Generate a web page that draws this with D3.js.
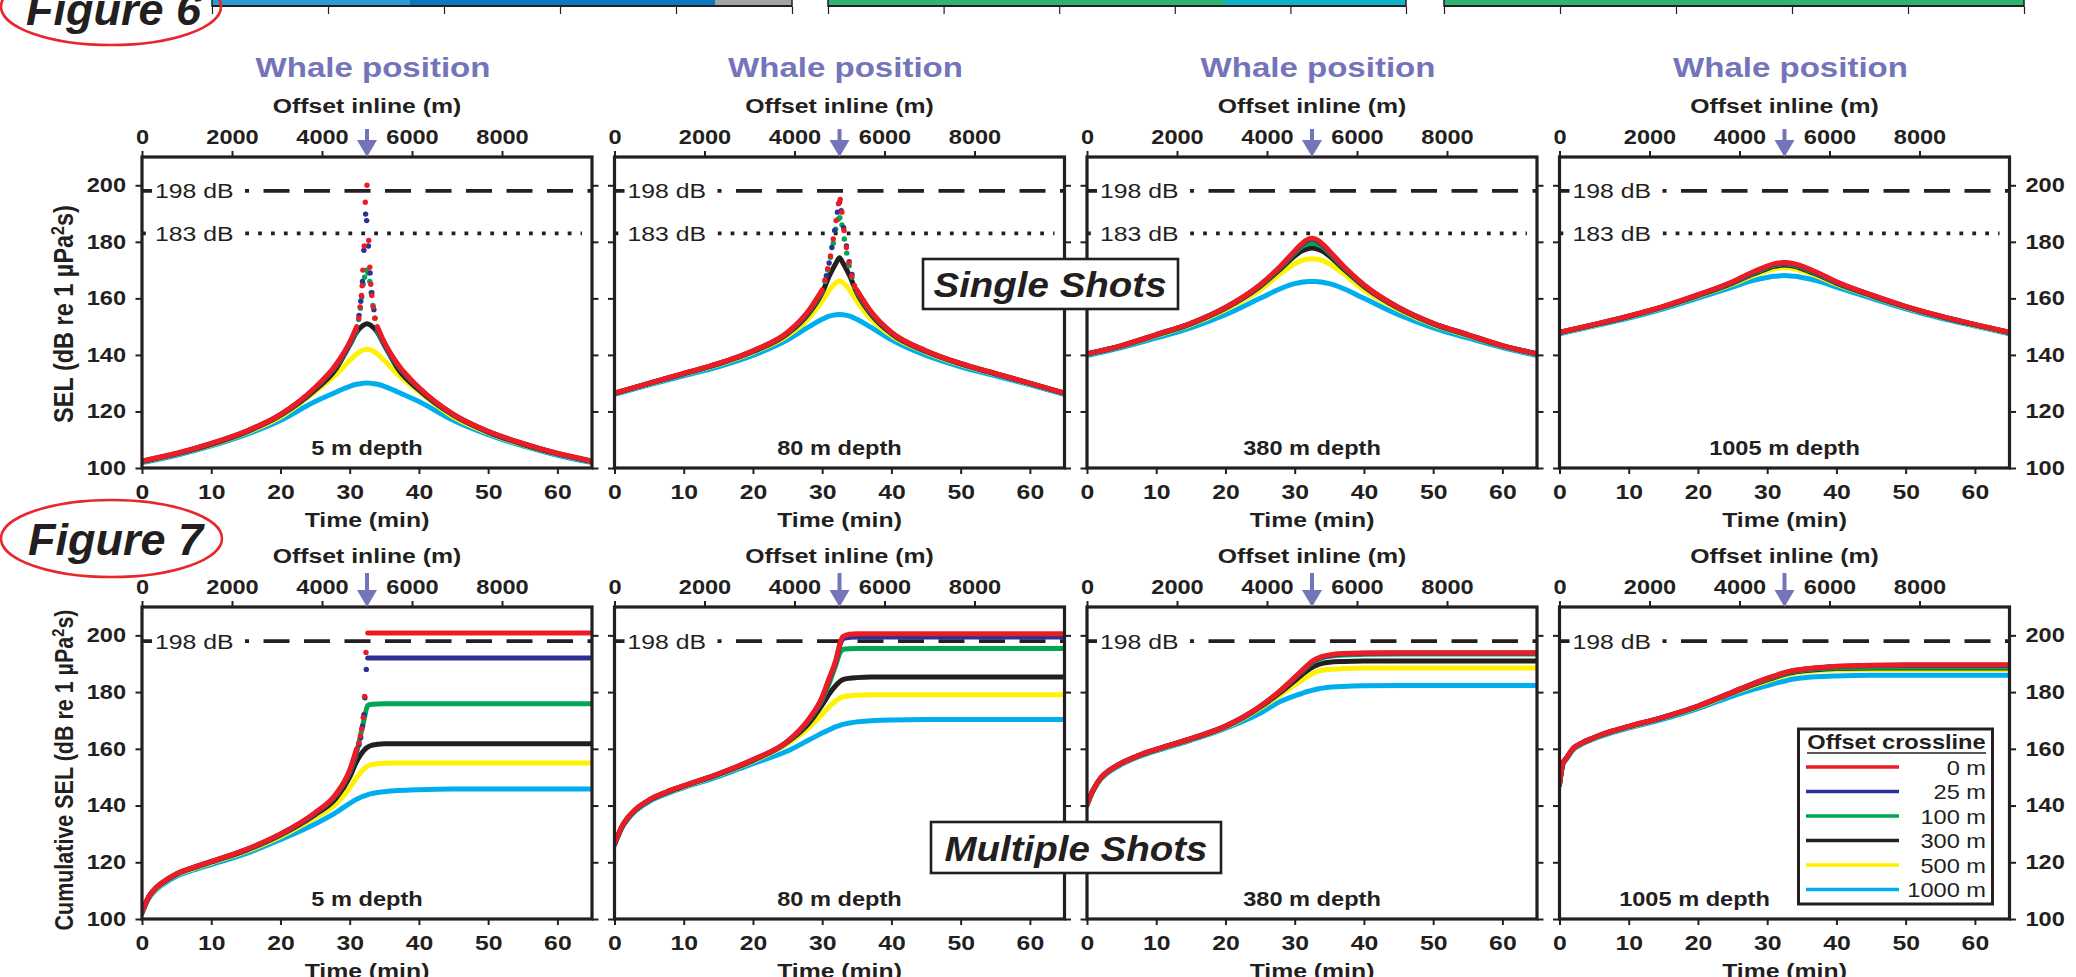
<!DOCTYPE html>
<html><head><meta charset="utf-8">
<script src="https://cdn.jsdelivr.net/npm/d3@7"></script>
<style>
body{margin:0;background:#fff;}
svg{display:block;}
text{font-family:"Liberation Sans",Arial,Helvetica,sans-serif;}
</style>
</head><body>
<svg id="c" width="2076" height="977"></svg>
<script>
// ---------------- DATA ----------------
const offsets = ["0 m","25 m","100 m","300 m","500 m","1000 m"];
const colors  = ["#ed1c24","#2e3192","#00a651","#231f20","#fff200","#00aeef"];
const depths  = ["5 m depth","80 m depth","380 m depth","1005 m depth"];
const timeTicks   = [0,10,20,30,40,50,60];
const offsetTicks = [0,2000,4000,6000,8000];
const selTicks    = [100,120,140,160,180,200];
const whaleOffset = 5000;
const thresholdsSingle = [198,183];
const thresholdsCum    = [198];

const singleTimes = [0,5,10,15,20,25,28,30,31,32,32.5,33,34,35,37,40,45,50,55,60,65];

const single5m = [
 [102.5,105.2,108.7,113.0,119.0,128.5,136.5,144.5,150.0,null,null,null,150.0,144.5,136.5,128.5,119.0,113.0,108.7,105.2,102.5],
 [102.4,105.1,108.6,112.9,118.9,128.3,136.2,144.0,149.5,null,null,null,149.5,144.0,136.2,128.3,118.9,112.9,108.6,105.1,102.4],
 [102.4,105.1,108.6,112.9,118.8,128.2,136.0,143.5,148.5,null,null,null,148.5,143.5,136.0,128.2,118.8,112.9,108.6,105.1,102.4],
 [102.3,105.0,108.4,112.7,118.6,127.6,135.0,143.5,148.0,150.5,151.0,150.5,148.0,143.5,135.0,127.6,118.6,112.7,108.4,105.0,102.3],
 [102.2,104.9,108.2,112.4,118.0,127.0,133.0,138.0,140.3,141.8,142.0,141.8,140.3,138.0,133.0,127.0,118.0,112.4,108.2,104.9,102.2],
 [101.9,104.5,107.8,111.8,116.8,123.5,126.8,128.9,129.6,130.0,130.1,130.0,129.6,128.9,126.8,123.5,116.8,111.8,107.8,104.5,101.9]
];
const single5mDots = [
 [[31.3,153],[31.5,157],[31.7,161],[31.8,164.5],[31.9,170],[32.1,178.5],[32.25,194],[32.5,200],[32.75,180.5],[32.9,171],[33.05,165],[33.2,161],[33.4,157],[33.65,153]],
 [[31.35,154],[31.6,159],[31.85,166],[32.05,177],[32.3,189.8],[32.45,187.5],[32.7,178.5],[32.95,169],[33.2,162],[33.5,156]],
 [[31.3,152.5],[31.55,156.5],[31.75,160.5],[31.95,165],[32.15,167.5],[32.4,170],[32.65,169],[32.9,166],[33.1,162],[33.35,157.5],[33.65,153]]
];

const single80m = [
 [126.5,130.0,133.5,137.0,141.5,148.0,155.5,163.0,null,null,null,null,null,163.0,155.5,148.0,141.5,137.0,133.5,130.0,126.5],
 [126.4,129.9,133.4,136.9,141.4,147.9,155.3,162.7,null,null,null,null,null,162.7,155.3,147.9,141.4,136.9,133.4,129.9,126.4],
 [126.4,129.9,133.4,136.9,141.3,147.8,155.0,162.3,null,null,null,null,null,162.3,155.0,147.8,141.3,136.9,133.4,129.9,126.4],
 [126.4,129.9,133.3,136.8,141.2,147.5,154.5,162.0,167.8,172.5,174.4,172.5,167.8,162.0,154.5,147.5,141.2,136.8,133.3,129.9,126.4],
 [126.3,129.8,133.2,136.6,140.9,146.8,152.8,159.0,162.8,165.5,166.1,165.5,162.8,159.0,152.8,146.8,140.9,136.6,133.2,129.8,126.3],
 [126.0,129.4,132.6,135.8,139.8,145.3,149.8,152.6,153.7,154.2,154.3,154.2,153.7,152.6,149.8,145.3,139.8,135.8,132.6,129.4,126.0]
];
const single80mDots = [
 [[30.4,166.5],[30.8,170.5],[31.2,175],[31.6,181],[32.0,187.5],[32.35,193.5],[32.6,195],[32.85,190.5],[33.15,184],[33.5,178],[33.85,172.5],[34.25,168],[34.65,164.5]],
 [[30.6,168],[31.0,172.5],[31.4,178],[31.8,184],[32.2,190.5],[32.5,194],[32.75,191],[33.1,185],[33.5,178.5],[33.9,173],[34.3,168.5]],
 [[30.4,166],[30.8,170],[31.2,174.5],[31.6,179.5],[31.95,184.5],[32.3,188],[32.55,188.5],[32.85,186],[33.2,181],[33.55,176],[33.9,171.5],[34.3,167.5],[34.7,164]]
];

const single380m = [
 [140.4,143.3,147.2,151.2,156.8,164.8,171.5,176.8,179.3,181.0,181.3,181.0,179.3,176.8,171.5,164.8,156.8,151.2,147.2,143.3,140.4],
 [140.4,143.3,147.2,151.2,156.8,164.7,171.3,176.6,179.0,180.7,181.0,180.7,179.0,176.6,171.3,164.7,156.8,151.2,147.2,143.3,140.4],
 [140.3,143.2,147.1,151.1,156.7,164.5,171.0,176.1,178.3,179.3,179.5,179.3,178.3,176.1,171.0,164.5,156.7,151.1,147.1,143.2,140.3],
 [140.3,143.2,147.0,151.0,156.5,164.2,170.5,175.0,176.7,177.6,177.8,177.6,176.7,175.0,170.5,164.2,156.5,151.0,147.0,143.2,140.3],
 [140.2,143.1,146.8,150.7,156.0,163.0,168.8,172.2,173.4,173.9,174.0,173.9,173.4,172.2,168.8,163.0,156.0,150.7,146.8,143.1,140.2],
 [139.8,142.6,146.0,149.6,154.2,160.0,163.5,165.2,165.7,166.0,166.0,166.0,165.7,165.2,163.5,160.0,154.2,149.6,146.0,142.6,139.8]
];

const single1005m = [
 [148.0,150.8,153.8,157.2,161.3,165.9,169.4,171.4,172.2,172.6,172.7,172.6,172.2,171.4,169.4,165.9,161.3,157.2,153.8,150.8,148.0],
 [147.9,150.7,153.7,157.1,161.2,165.8,169.2,171.2,172.0,172.4,172.5,172.4,172.0,171.2,169.2,165.8,161.2,157.1,153.7,150.7,147.9],
 [147.9,150.7,153.7,157.1,161.1,165.6,168.9,170.9,171.7,172.1,172.2,172.1,171.7,170.9,168.9,165.6,161.1,157.1,153.7,150.7,147.9],
 [147.9,150.6,153.6,157.0,161.0,165.4,168.6,170.5,171.3,171.7,171.8,171.7,171.3,170.5,168.6,165.4,161.0,157.0,153.6,150.6,147.9],
 [147.8,150.5,153.5,156.8,160.8,165.0,168.0,169.7,170.4,170.8,170.9,170.8,170.4,169.7,168.0,165.0,160.8,156.8,153.5,150.5,147.8],
 [147.5,150.2,153.0,156.3,160.1,164.0,166.4,167.4,167.8,168.0,168.1,168.0,167.8,167.4,166.4,164.0,160.1,156.3,153.0,150.2,147.5]
];

const cumTimes = [0,0.5,1,2,3,5,7.5,10,15,20,25,28,30,31,32,32.6,33,34,35,37,40,45,50,55,60,65];

const cum5m = [
 [102.5,105.5,108.0,111.0,113.0,116.0,118.3,120.3,124.5,130.0,137.5,144.0,152.5,160.0,null,200.8,200.8,200.8,200.8,200.8,200.8,200.8,200.8,200.8,200.8,200.8],
 [102.4,105.4,107.9,110.9,112.9,115.9,118.2,120.2,124.4,129.9,137.3,143.8,152.2,159.5,null,192.0,192.0,192.0,192.0,192.0,192.0,192.0,192.0,192.0,192.0,192.0],
 [102.4,105.4,107.9,110.9,112.9,115.9,118.2,120.2,124.4,129.8,137.2,143.6,151.8,158.8,169.5,175.2,175.6,175.8,175.9,175.9,175.9,175.9,175.9,175.9,175.9,175.9],
 [102.3,105.3,107.8,110.8,112.8,115.8,118.1,120.1,124.2,129.6,136.8,142.5,150.0,155.5,159.3,160.6,161.1,161.6,161.8,161.8,161.8,161.8,161.8,161.8,161.8,161.8],
 [102.2,105.2,107.7,110.6,112.6,115.6,117.8,119.8,123.8,129.0,135.7,140.5,146.2,149.8,152.8,153.9,154.3,154.7,154.9,155.0,155.0,155.0,155.0,155.0,155.0,155.0],
 [101.9,104.9,107.3,110.2,112.2,115.1,117.3,119.2,123.0,128.0,133.5,137.5,140.8,142.2,143.3,143.8,144.1,144.6,144.9,145.3,145.6,145.8,145.8,145.8,145.8,145.8]
];
const cum5mDots = [
 [[31.3,162],[31.55,164.5],[31.75,167],[31.95,171],[32.15,178.5],[32.35,194]],
 [[31.35,161.5],[31.6,164],[31.85,168],[32.05,172],[32.2,178],[32.4,188]],
 []
];

const cum80m = [
 [126.5,129.5,132.3,136.0,138.6,142.0,144.8,147.0,151.2,156.2,162.7,170.3,178.3,184.8,191.5,197.5,199.6,200.4,200.6,200.6,200.6,200.6,200.6,200.6,200.6,200.6],
 [126.4,129.4,132.2,135.9,138.5,141.9,144.7,146.9,151.1,156.1,162.6,170.1,178.0,184.5,191.1,196.8,198.8,199.3,199.4,199.4,199.4,199.4,199.4,199.4,199.4,199.4],
 [126.4,129.4,132.2,135.9,138.5,141.9,144.7,146.9,151.1,156.0,162.5,169.8,177.3,183.0,189.8,194.0,195.0,195.3,195.4,195.4,195.4,195.4,195.4,195.4,195.4,195.4],
 [126.3,129.3,132.1,135.8,138.4,141.8,144.6,146.8,151.0,155.9,162.4,168.8,175.5,179.3,182.4,183.8,184.4,184.9,185.1,185.3,185.3,185.3,185.3,185.3,185.3,185.3],
 [126.3,129.3,132.1,135.8,138.4,141.8,144.5,146.7,150.8,155.6,161.8,167.3,172.2,174.8,177.0,177.9,178.3,178.7,178.9,179.1,179.1,179.1,179.1,179.1,179.1,179.1],
 [126.0,129.0,131.8,135.4,138.0,141.4,144.1,146.3,150.2,154.8,159.2,163.0,165.6,166.7,167.8,168.3,168.6,169.1,169.5,169.9,170.2,170.3,170.3,170.3,170.3,170.3]
];

const cum380m = [
 [140.4,143.5,146.0,149.8,152.0,155.0,157.7,159.8,163.6,168.0,175.0,180.7,185.2,187.5,189.8,191.0,191.6,192.6,193.1,193.6,193.8,193.9,193.9,193.9,193.9,193.9],
 [140.4,143.5,146.0,149.8,152.0,155.0,157.7,159.8,163.6,168.0,174.9,180.6,185.0,187.3,189.6,190.8,191.4,192.4,192.9,193.4,193.7,193.8,193.8,193.8,193.8,193.8],
 [140.3,143.4,145.9,149.7,151.9,154.9,157.6,159.7,163.5,167.9,174.8,180.5,184.9,187.1,189.3,190.5,191.1,192.1,192.6,193.1,193.3,193.4,193.4,193.4,193.4,193.4],
 [140.3,143.4,145.9,149.7,151.9,154.9,157.6,159.7,163.4,167.8,174.7,180.0,184.0,186.0,187.9,188.8,189.3,190.1,190.5,190.8,191.0,191.0,191.0,191.0,191.0,191.0],
 [140.2,143.3,145.8,149.6,151.8,154.8,157.5,159.6,163.3,167.6,174.3,179.2,182.5,184.1,185.7,186.6,187.0,187.7,188.0,188.3,188.5,188.5,188.5,188.5,188.5,188.5],
 [140.0,143.1,145.6,149.3,151.5,154.5,157.2,159.3,163.0,167.2,172.5,176.8,178.7,179.5,180.3,180.7,180.9,181.4,181.7,182.0,182.2,182.3,182.3,182.3,182.3,182.3]
];

const cum1005m = [
 [147.5,155.0,156.8,160.2,161.8,164.0,166.2,167.9,171.2,175.1,180.0,183.0,184.8,185.6,186.5,186.9,187.2,187.7,188.0,188.6,189.1,189.5,189.6,189.6,189.6,189.6],
 [147.5,155.0,156.8,160.2,161.8,164.0,166.2,167.9,171.2,175.1,180.0,183.0,184.8,185.6,186.4,186.8,187.1,187.6,187.9,188.5,189.0,189.4,189.5,189.5,189.5,189.5],
 [147.4,154.9,156.7,160.1,161.7,163.9,166.1,167.8,171.1,175.0,179.9,182.8,184.5,185.3,186.1,186.5,186.8,187.3,187.6,188.1,188.5,188.8,188.8,188.8,188.8,188.8],
 [147.4,154.9,156.7,160.1,161.7,163.9,166.1,167.8,171.1,175.0,179.8,182.6,184.3,185.1,185.9,186.3,186.6,187.1,187.4,187.9,188.3,188.5,188.5,188.5,188.5,188.5],
 [147.3,154.8,156.6,160.0,161.6,163.8,166.0,167.7,171.0,174.8,179.6,182.3,183.9,184.7,185.5,185.9,186.2,186.7,187.0,187.5,187.8,188.0,188.0,188.0,188.0,188.0],
 [147.0,154.5,156.3,159.7,161.3,163.5,165.6,167.3,170.5,174.2,178.6,181.0,182.3,183.0,183.6,183.9,184.2,184.7,185.0,185.4,185.7,185.9,185.9,185.9,185.9,185.9]
];

// ---------------- LAYOUT ----------------
const SX = 1.18;               // horizontal text stretch of the original artwork
const panelLefts = [142, 614.5, 1087, 1559.5];
const PW = 450;
const rows = [
  {top:157, bottom:468, times:singleTimes, data:[single5m,single80m,single380m,single1005m],
   dots:[single5mDots,single80mDots,null,null], thresholds:thresholdsSingle,
   title:"SEL (dB re 1 \u00b5Pa", titleY:314, titleSize:23.5, whale:true},
  {top:607, bottom:919, times:cumTimes, data:[cum5m,cum80m,cum380m,cum1005m],
   dots:[cum5mDots,null,null,null], thresholds:thresholdsCum,
   title:"Cumulative SEL (dB re 1 \u00b5Pa", titleY:770, titleSize:21.5, whale:false}
];
const whaleColor = "#7474ba";

const svg = d3.select("#c");
svg.append("rect").attr("width",2076).attr("height",977).attr("fill","#fff");
const defs = svg.append("defs");

function txt(g, x, y, s, o={}) {
  return g.append("text")
    .attr("transform", `translate(${x},${y}) scale(${o.sx ?? SX},1)`)
    .attr("text-anchor", o.anchor || "start")
    .attr("font-size", o.size || 20)
    .attr("font-weight", o.weight || "bold")
    .attr("font-style", o.style || "normal")
    .attr("fill", o.fill || "#231f20")
    .text(s);
}

// ---------- remnants of the figure above (Figure 5 strips) ----------
const strips = [
  {x0:212, x1:792, segs:[[212,410,"#2b9bd8"],[410,715,"#0b79c2"],[715,792,"#a3a3a3"]]},
  {x0:828, x1:1406, segs:[[828,1225,"#2bb673"],[1225,1406,"#10b4c8"]]},
  {x0:1444, x1:2024, segs:[[1444,2024,"#2bb673"]]}
];
strips.forEach(st => {
  const g = svg.append("g");
  st.segs.forEach(s => g.append("rect").attr("x",s[0]).attr("y",0).attr("width",s[1]-s[0]).attr("height",6).attr("fill",s[2]));
  g.append("line").attr("x1",st.x0).attr("x2",st.x1).attr("y1",6).attr("y2",6).attr("stroke","#231f20").attr("stroke-width",2.2);
  g.append("line").attr("x1",st.x0).attr("x2",st.x0).attr("y1",0).attr("y2",7).attr("stroke","#231f20").attr("stroke-width",1.5);
  g.append("line").attr("x1",st.x1).attr("x2",st.x1).attr("y1",0).attr("y2",7).attr("stroke","#231f20").attr("stroke-width",1.5);
  const sc = d3.scaleLinear().domain([0,10000]).range([st.x0, st.x1]);
  const ax = g.append("g").attr("transform","translate(0,7)");
  ax.call(d3.axisBottom(sc).tickValues(d3.range(0,10001,500)).tickSize(4).tickFormat(""));
  ax.call(d3.axisBottom(sc).tickValues(d3.range(0,10001,2000)).tickSize(7).tickFormat(""));
  ax.selectAll(".domain").remove();
  ax.selectAll("line").attr("stroke","#231f20").attr("stroke-width",1.2);
});

// ---------- Figure labels ----------
svg.append("ellipse").attr("cx",111).attr("cy",6.5).attr("rx",110).attr("ry",38.5)
   .attr("fill","none").attr("stroke","#e8262b").attr("stroke-width",2.5);
txt(svg, 26, 25, "Figure 6", {size:45, style:"italic", sx:1});
svg.append("ellipse").attr("cx",111.5).attr("cy",538.5).attr("rx",110.5).attr("ry",38.5)
   .attr("fill","none").attr("stroke","#e8262b").attr("stroke-width",2.5);
txt(svg, 28, 555, "Figure 7", {size:45, style:"italic", sx:1});

// ---------- Panels ----------
const x = d3.scaleLinear().domain([0,65]).range([0,PW]);
const xo = d3.scaleLinear().domain([0,10000]).range([0,PW]);

rows.forEach((row, ri) => {
  const PH = row.bottom - row.top;
  const y = d3.scaleLinear().domain([100,210]).range([PH,0]);
  const line = d3.line().defined(d => d[1] != null).x(d => x(d[0])).y(d => y(d[1])).curve(d3.curveMonotoneX);

  // rotated y-axis title
  const tt = svg.append("text")
    .attr("transform", `translate(73,${row.titleY}) scale(${SX},1) rotate(-90)`)
    .attr("text-anchor","middle").attr("font-size",row.titleSize).attr("font-weight","bold").attr("fill","#231f20");
  tt.append("tspan").text(row.title);
  tt.append("tspan").attr("dy",-8).attr("font-size",row.titleSize*0.68).text("2");
  tt.append("tspan").attr("dy",8).text("s)");

  panelLefts.forEach((left, pi) => {
    const g = svg.append("g").attr("transform", `translate(${left},${row.top})`);
    const cid = `clip${ri}${pi}`;
    defs.append("clipPath").attr("id",cid).append("rect").attr("width",PW).attr("height",PH);
    g.append("rect").attr("width",PW).attr("height",PH).attr("fill","#fff");

    // thresholds
    row.thresholds.forEach(th => {
      const yy = y(th);
      const isDash = th === 198;
      g.append("line").attr("x1",0).attr("x2", isDash ? PW : PW-10).attr("y1",yy).attr("y2",yy)
        .attr("stroke","#231f20").attr("stroke-width",3.8)
        .attr("stroke-dasharray", isDash ? "26,14.5" : "3.8,9.1");
      g.append("rect").attr("x",10).attr("y",yy-12).attr("width",93).attr("height",24).attr("fill","#fff");
      txt(g, 13, yy+7.5, `${th} dB`, {size:21, weight:"normal"});
    });

    // curves
    const cg = g.append("g").attr("clip-path",`url(#${cid})`);
    const series = row.data[pi];
    for (let si = series.length-1; si >= 0; si--) {
      const pts = row.times.map((t,k) => [t, series[si][k]]);
      cg.append("path").datum(pts).attr("d", line)
        .attr("fill","none").attr("stroke",colors[si]).attr("stroke-width",5)
        .attr("stroke-linecap","round").attr("stroke-linejoin","round");
      const dd = row.dots[pi];
      if (dd && dd[si]) {
        cg.selectAll(null).data(dd[si]).enter().append("circle")
          .attr("cx", d => x(d[0])).attr("cy", d => y(d[1])).attr("r",2.7).attr("fill",colors[si]);
      }
    }

    // depth label
    const dx = (ri === 1 && pi === 3) ? -90 : 0;
    txt(g, PW/2 + dx, PH-13, depths[pi], {size:20, anchor:"middle"});

    // axes
    const axStyle = sel => {
      sel.selectAll(".domain").remove();
      sel.selectAll("line").attr("stroke","#231f20").attr("stroke-width",2);
      sel.selectAll("text").attr("fill","#231f20").attr("font-weight","bold")
         .attr("font-family",'"Liberation Sans",Arial,sans-serif');
    };
    // left
    const la = g.append("g");
    la.call(d3.axisLeft(y).tickValues(d3.range(100,211,5)).tickSize(3.5).tickFormat(""));
    la.call(d3.axisLeft(y).tickValues(selTicks).tickSize(6.5).tickPadding(7)
      .tickFormat(pi === 0 ? d3.format("d") : ""));
    axStyle(la);
    la.selectAll("text").attr("font-size",20).attr("transform",`scale(${SX},1)`);
    // right
    const ra = g.append("g").attr("transform",`translate(${PW},0)`);
    ra.call(d3.axisRight(y).tickValues(d3.range(100,211,5)).tickSize(3.5).tickFormat(""));
    ra.call(d3.axisRight(y).tickValues(selTicks).tickSize(6.5).tickPadding(7)
      .tickFormat(pi === 3 ? d3.format("d") : ""));
    axStyle(ra);
    ra.selectAll("text").attr("font-size",20).attr("transform",`scale(${SX},1)`);
    // bottom
    const ba = g.append("g").attr("transform",`translate(0,${PH})`);
    ba.call(d3.axisBottom(x).tickValues(d3.range(0,65,2)).tickSize(3.5).tickFormat(""));
    ba.call(d3.axisBottom(x).tickValues(timeTicks).tickSize(6).tickPadding(10).tickFormat(d3.format("d")));
    axStyle(ba);
    ba.selectAll("text").attr("font-size",21).attr("transform",`scale(${SX},1)`);
    // top
    const ta = g.append("g");
    ta.call(d3.axisTop(xo).tickValues(d3.range(0,10001,500)).tickSize(3.5).tickFormat(""));
    ta.call(d3.axisTop(xo).tickValues(offsetTicks).tickSize(6).tickPadding(7).tickFormat(d3.format("d")));
    axStyle(ta);
    ta.selectAll("text").attr("font-size",20).attr("transform",`scale(${SX},1)`);

    // frame
    g.append("rect").attr("width",PW).attr("height",PH).attr("fill","none")
      .attr("stroke","#231f20").attr("stroke-width",3.2);

    // titles
    txt(g, PW/2, PH+58.5, "Time (min)", {size:21, anchor:"middle"});
    txt(g, PW/2, -44, "Offset inline (m)", {size:21, anchor:"middle"});
    if (row.whale) txt(g, PW/2 + 6, -80, "Whale position", {size:28, anchor:"middle", fill:whaleColor});

    // whale arrow
    const wx = xo(whaleOffset);
    const topShaft = row.whale ? -28 : -34;
    g.append("line").attr("x1",wx).attr("x2",wx).attr("y1",topShaft).attr("y2",-15)
      .attr("stroke",whaleColor).attr("stroke-width",4);
    g.append("path").attr("d",`M${wx-10},${-17}L${wx+10},${-17}L${wx},0Z`).attr("fill",whaleColor);
  });
});

// ---------- boxes ----------
function box(x0, y0, w, h, s, cx, by) {
  svg.append("rect").attr("x",x0).attr("y",y0).attr("width",w).attr("height",h)
    .attr("fill","#fff").attr("stroke","#231f20").attr("stroke-width",2.6);
  txt(svg, cx, by, s, {size:35, style:"italic", anchor:"middle", sx:1.1});
}
box(923, 259, 255, 50, "Single Shots", 1050, 297);
box(931, 822, 290, 51, "Multiple Shots", 1076, 861);

// ---------- legend ----------
const lg = svg.append("g");
lg.append("rect").attr("x",1798.5).attr("y",729).attr("width",194).attr("height",175)
  .attr("fill","#fff").attr("stroke","#231f20").attr("stroke-width",3);
txt(lg, 1896.5, 749, "Offset crossline", {size:20, anchor:"middle"});
lg.append("line").attr("x1",1807).attr("x2",1986).attr("y1",753).attr("y2",753)
  .attr("stroke","#231f20").attr("stroke-width",1.6);
const ly = d3.scalePoint().domain(offsets).range([767,889.5]);
offsets.forEach((o,i) => {
  lg.append("line").attr("x1",1806).attr("x2",1899).attr("y1",ly(o)).attr("y2",ly(o))
    .attr("stroke",colors[i]).attr("stroke-width",3.4);
  txt(lg, 1986, ly(o)+7.5, o, {size:20, anchor:"end", weight:"normal"});
});
</script>
</body></html>
